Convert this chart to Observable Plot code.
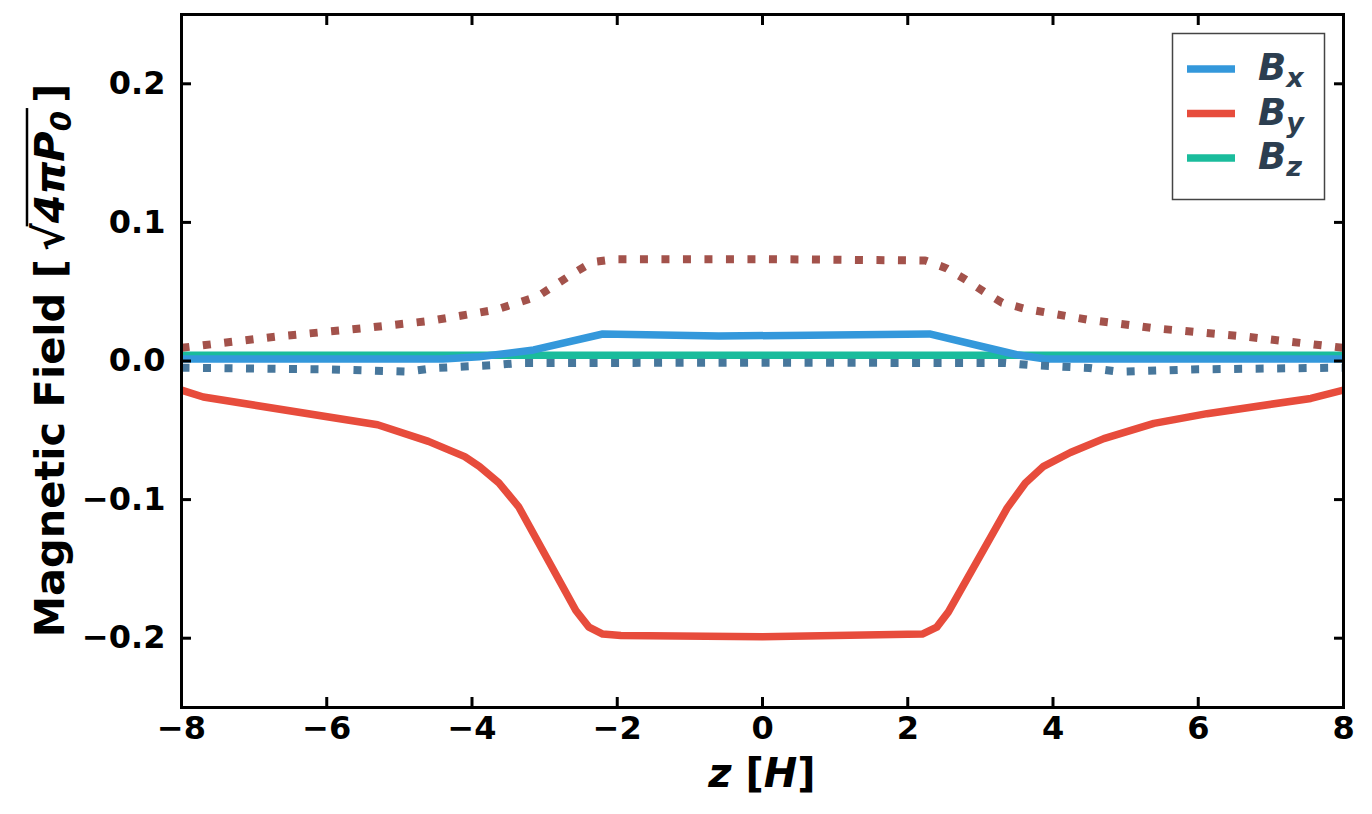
<!DOCTYPE html>
<html>
<head>
<meta charset="utf-8">
<script src="https://cdn.jsdelivr.net/npm/d3@7"></script>
<script src="https://cdn.jsdelivr.net/npm/@observablehq/plot@0.6"></script>
<style>
  body { margin: 0; background: #fff; }
  #chart svg { display: block; }
</style>
</head>
<body>
<div id="chart"></div>
<script>
// Field profiles along z (in units of H), field in units of sqrt(4*pi*P0)

// B_x (solid)
const zBx = [-8, -4.4, -3.9, -3.15, -2.2, -0.6, 2.3, 3.5, 3.9, 8];
const bx  = [0.0015, 0.0015, 0.003, 0.008, 0.0195, 0.018, 0.0195, 0.0045, 0.0015, 0.0015];

// B_y (solid)
const zBy = [-8, -7.7, -5.3, -4.6, -4.1, -3.9, -3.63, -3.36, -2.57, -2.39, -2.2, -1.95, 0,
             2.2, 2.4, 2.56, 3.37, 3.62, 3.87, 4.24, 4.7, 5.39, 6.12, 7.55, 8];
const by  = [-0.021, -0.026, -0.046, -0.058, -0.069, -0.076, -0.088, -0.105, -0.180, -0.192, -0.197, -0.198, -0.199,
             -0.197, -0.192, -0.181, -0.106, -0.088, -0.076, -0.066, -0.056, -0.045, -0.038, -0.027, -0.021];

// B_z (solid)
const zBz = [-8, -4, 0, 4, 8];
const bz  = [0.0042, 0.0042, 0.0042, 0.0042, 0.0042];

// B_x (dotted)
const zBxDot = [-8, -6, -4.9, -4.5, -3.7, -3.35, 0, 3.35, 3.7, 4.5, 4.9, 6, 8];
const bxDot  = [-0.0048, -0.006, -0.0077, -0.005, -0.003, -0.0015, -0.0012, -0.0015, -0.003, -0.005, -0.0077, -0.006, -0.0048];

// B_y (dotted)
const zByDot = [-8, -6.7, -5.5, -4.57, -3.68, -3.1, -2.6, -2.34, -2.03, 0,
                2.24, 2.53, 2.8, 3.05, 3.3, 3.62, 4.5, 5.4, 6.65, 8];
const byDot  = [0.0095, 0.0176, 0.0236, 0.029, 0.0369, 0.0465, 0.0634, 0.0714, 0.0735, 0.0735,
                0.0725, 0.067, 0.0586, 0.050, 0.042, 0.0376, 0.0296, 0.0236, 0.0176, 0.0095];

// Axis ticks
const xTicks = [-8, -6, -4, -2, 0, 2, 4, 6, 8];
const yTicks = [-0.2, -0.1, 0.0, 0.1, 0.2];

// Legend entries
const legendNames  = ["x", "y", "z"];
const legendColors = ["#3498db", "#e74c3c", "#1abc9c"];

const rows = (zs, vs) => zs.map((z, i) => ({z, v: vs[i]}));

const solidW = 7.5;
const dotW = 8;

const plot = Plot.plot({
  width: 1372,
  height: 814,
  marginLeft: 181,
  marginRight: 29,
  marginTop: 14,
  marginBottom: 107,
  x: {domain: [-8, 8]},
  y: {domain: [-0.25, 0.25]},
  style: {
    fontFamily: "'DejaVu Sans', sans-serif",
    fontSize: "32px",
    fontWeight: "bold",
    color: "black",
    background: "white"
  },
  marks: [
    Plot.line(rows(zBz, bz), {x: "z", y: "v", stroke: legendColors[2], strokeWidth: solidW, clip: true}),
    Plot.line(rows(zBx, bx), {x: "z", y: "v", stroke: legendColors[0], strokeWidth: solidW, clip: true}),
    Plot.line(rows(zBy, by), {x: "z", y: "v", stroke: legendColors[1], strokeWidth: solidW, clip: true}),
    Plot.line(rows(zByDot, byDot), {x: "z", y: "v", stroke: "#a3524b", strokeWidth: dotW,
      strokeDasharray: "8,13.5", strokeLinecap: "butt", clip: true}),
    Plot.line(rows(zBxDot, bxDot), {x: "z", y: "v", stroke: "#47779c", strokeWidth: dotW,
      strokeDasharray: "8,13.5", strokeLinecap: "butt", clip: true}),
    Plot.frame({stroke: "black", strokeWidth: 3}),
    Plot.axisX(xTicks, {anchor: "bottom", tickSize: -10, tickPadding: 19, strokeWidth: 3,
      tickFormat: d3.format("d"), label: null}),
    Plot.axisX(xTicks, {anchor: "top", tickSize: -10, strokeWidth: 3, tickFormat: () => "", label: null}),
    Plot.axisY(yTicks, {anchor: "left", tickSize: -10, tickPadding: 26, strokeWidth: 3,
      tickFormat: d3.format(".1f"), label: null}),
    Plot.axisY(yTicks, {anchor: "right", tickSize: -10, strokeWidth: 3, tickFormat: () => "", label: null})
  ]
});

document.getElementById("chart").appendChild(plot);

const svg = d3.select(plot);
const xs = plot.scale("x"), ys = plot.scale("y");
const plotLeft = xs.range[0], plotRight = xs.range[1];
const plotTop = ys.range[1], plotBottom = ys.range[0];

// x axis title: z [H]
const xt = svg.append("text")
  .attr("x", (plotLeft + plotRight) / 2)
  .attr("y", plotBottom + 80)
  .attr("text-anchor", "middle")
  .attr("font-size", 40)
  .attr("font-weight", "bold")
  .attr("fill", "black");
xt.append("tspan").attr("font-style", "italic").text("z");
xt.append("tspan").text(" [");
xt.append("tspan").attr("font-style", "italic").text("H");
xt.append("tspan").text("]");

// y axis title: Magnetic Field [sqrt(4 pi P0)]
const yg = svg.append("g")
  .attr("transform", `translate(64,${(plotTop + plotBottom) / 2}) rotate(-90)`);
const yt = yg.append("text")
  .attr("x", 0).attr("y", 0)
  .attr("text-anchor", "middle")
  .attr("font-size", 41.5)
  .attr("font-weight", "bold")
  .attr("fill", "black");
yt.append("tspan").text("Magnetic Field [\u2009");
yt.append("tspan").text("\u221A");
yt.append("tspan").attr("font-style", "italic").text("4\u03C0P");
yt.append("tspan").attr("font-style", "italic").attr("font-size", 29).attr("dy", 7).text("0");
yt.append("tspan").attr("dy", -7).text("\u2009]");
// overline of the radical
{
  const node = yt.node();
  const full = "Magnetic Field [\u2009\u221A4\u03C0P0\u2009]";
  const iRad = full.indexOf("\u221A");
  const iEnd = full.lastIndexOf("0");
  const x0 = node.getEndPositionOfChar(iRad).x - 3;
  const x1 = node.getEndPositionOfChar(iEnd).x + 3;
  yg.append("line")
    .attr("x1", x0).attr("x2", x1)
    .attr("y1", -37).attr("y2", -37)
    .attr("stroke", "black").attr("stroke-width", 2.5);
}

// Legend
const lg = svg.append("g");
lg.append("rect")
  .attr("x", 1172.5).attr("y", 33.5)
  .attr("width", 152).attr("height", 166)
  .attr("fill", "white")
  .attr("stroke", "#444")
  .attr("stroke-width", 1.5);
legendNames.forEach((n, i) => {
  const cy = 69 + i * 44.5;
  lg.append("line")
    .attr("x1", 1187).attr("x2", 1235)
    .attr("y1", cy).attr("y2", cy)
    .attr("stroke", legendColors[i]).attr("stroke-width", 7.5);
  const t = lg.append("text")
    .attr("x", 1258).attr("y", cy + 11)
    .attr("text-anchor", "start")
    .attr("font-size", 37)
    .attr("font-weight", "bold")
    .attr("font-style", "italic")
    .attr("fill", "#2c3e50");
  t.append("tspan").text("B");
  t.append("tspan").attr("font-size", 27).attr("dy", 7).text(n);
});
</script>
</body>
</html>
